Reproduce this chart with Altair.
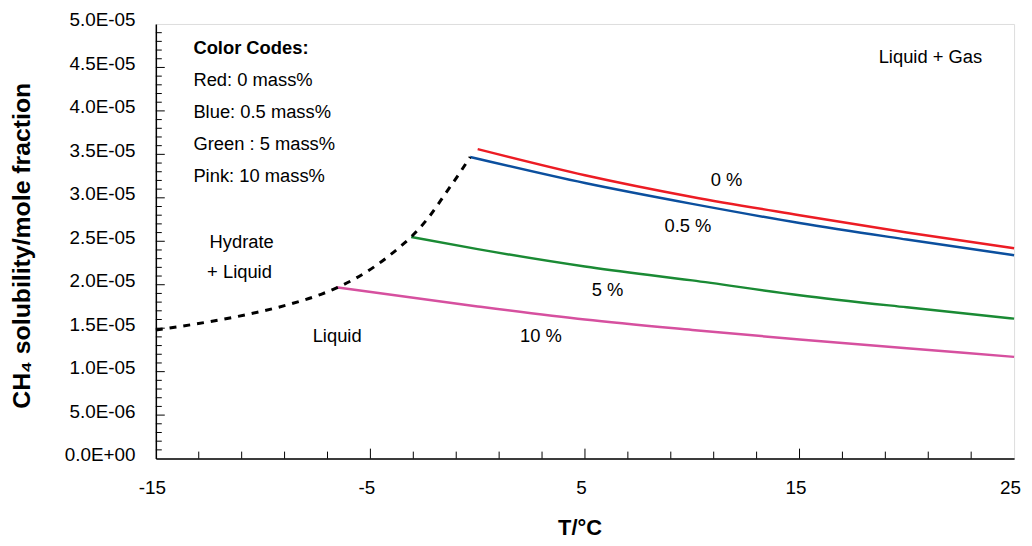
import altair as alt
import pandas as pd
import numpy as np

# ---- data ----
T_red = [0, 5, 10, 15, 20, 25]
red = [35.6e-6, 32.6e-6, 30.1e-6, 28.0e-6, 26.0e-6, 24.2e-6]

T_blue = [-0.35, 5, 10, 15, 20, 25]
blue = [34.7e-6, 31.7e-6, 29.3e-6, 27.1e-6, 25.2e-6, 23.4e-6]

T_green = [-3.1, 0, 5, 10, 15, 20, 25]
green = [25.5e-6, 24.1e-6, 22.1e-6, 20.5e-6, 18.8e-6, 17.4e-6, 16.1e-6]

T_pink = [-6.6, 0, 5, 10, 15, 20, 25]
pink = [19.7e-6, 17.5e-6, 16.0e-6, 14.8e-6, 13.7e-6, 12.7e-6, 11.7e-6]

T_hyd = [-15, -12.5, -10.7, -8.7, -7.3, -6.6, -4.8, -3.6, -3.1, -2.3, -1.5, -0.8, -0.35]
hyd = [14.8e-6, 15.75e-6, 16.6e-6, 17.8e-6, 18.9e-6, 19.6e-6, 22.1e-6, 24.4e-6,
       25.5e-6, 27.7e-6, 30.5e-6, 33.0e-6, 34.7e-6]

series_names = ["0 %", "0.5 %", "5 %", "10 %"]
series_colors = ["#ec1c24", "#0b4f9e", "#1a8a34", "#d6509f"]

x_label_values = [-15, -5, 5, 15, 25]
y_label_values = [0, 5e-6, 10e-6, 15e-6, 20e-6, 25e-6, 30e-6, 35e-6, 40e-6, 45e-6, 50e-6]

legend_lines = ["Red: 0 mass%", "Blue: 0.5 mass%", "Green : 5 mass%", "Pink: 10 mass%"]

FONT = "Liberation Sans"
TXT = 18.5
W, H = 865, 438

rows = []
for name, T, v in zip(series_names, [T_red, T_blue, T_green, T_pink], [red, blue, green, pink]):
    for t, val in zip(T, v):
        rows.append({"T": t, "x": val, "series": name})
df_lines = pd.DataFrame(rows)
df_hyd = pd.DataFrame({"T": T_hyd, "x": hyd})

xscale = alt.Scale(domain=[-15, 25], nice=False, zero=False)
yscale = alt.Scale(domain=[0, 5e-5], nice=False)

ylabel_expr = ("round(datum.value*1e6) == 0 ? '0.0E+00' : "
               "(round(datum.value*1e6) >= 10 ? format(datum.value*1e5, '.1f') + 'E-05' : "
               "format(datum.value*1e6, '.1f') + 'E-06')")
xlabel_expr = "(datum.value < 0 ? '-' : '') + format(abs(datum.value), 'd')"

base_x = alt.X("T:Q", scale=xscale,
               axis=alt.Axis(values=x_label_values, ticks=False, grid=False, labelFont=FONT,
                             labelFontSize=19, labelColor="black", labelPadding=20,
                             labelFlush=False, labelOffset=-4, labelExpr=xlabel_expr,
                             domainColor="black", domainWidth=1.5,
                             title="T/°C", titleFont=FONT, titleFontSize=22, titleFontWeight="bold",
                             titleColor="black", titleX=427, titleY=70, titleAlign="center",
                             titleBaseline="middle"))
base_y = alt.Y("x:Q", scale=yscale,
               axis=alt.Axis(values=y_label_values, ticks=False, grid=False, labelFont=FONT,
                             labelFontSize=19, labelColor="black", labelPadding=21,
                             labelOffset=-4,
                             labelExpr=ylabel_expr, domainColor="black", domainWidth=1.5,
                             title="CH₄ solubility/mole fraction", titleFont=FONT,
                             titleFontSize=25, titleFontWeight="bold", titleColor="black",
                             titleAngle=270, titleX=-135, titleY=223, titleAlign="center",
                             titleBaseline="middle"))

lines = alt.Chart(df_lines).mark_line(strokeWidth=2.5, interpolate="monotone").encode(
    x=base_x, y=base_y,
    color=alt.Color("series:N", scale=alt.Scale(domain=series_names, range=series_colors), legend=None),
    detail="series:N",
)

hydrate = alt.Chart(df_hyd).mark_line(strokeWidth=3, strokeDash=[7, 7], color="black",
                                      interpolate="monotone").encode(
    x=alt.X("T:Q", scale=xscale), y=alt.Y("x:Q", scale=yscale))

# inward tick marks
xt_minor = pd.DataFrame({"T": [t for t in np.arange(-13, 25, 2) if t not in x_label_values]})
xt_major = pd.DataFrame({"T": [t for t in np.arange(-13, 25, 2) if t in x_label_values]})
yt_minor = pd.DataFrame({"x": [i * 1e-6 for i in range(1, 50) if i % 5 != 0]})
yt_major = pd.DataFrame({"x": [i * 1e-6 for i in range(5, 50, 5)]})

xtick_minor = alt.Chart(xt_minor).mark_rule(color="black", strokeWidth=1).encode(
    x=alt.X("T:Q", scale=xscale), y=alt.value(H), y2=alt.value(H - 7))
xtick_major = alt.Chart(xt_major).mark_rule(color="black", strokeWidth=1).encode(
    x=alt.X("T:Q", scale=xscale), y=alt.value(H), y2=alt.value(H - 10))
ytick_minor = alt.Chart(yt_minor).mark_rule(color="black", strokeWidth=1).encode(
    y=alt.Y("x:Q", scale=yscale), x=alt.value(0), x2=alt.value(6))
ytick_major = alt.Chart(yt_major).mark_rule(color="black", strokeWidth=1).encode(
    y=alt.Y("x:Q", scale=yscale), x=alt.value(0), x2=alt.value(9))

# annotations
df_title = pd.DataFrame({"T": [-13.25], "x": [47.2e-6], "text": ["Color Codes:"]})
df_legend = pd.DataFrame({"T": [-13.25] * 4, "x": [43.5e-6, 39.85e-6, 36.2e-6, 32.55e-6],
                          "text": legend_lines})
df_notes = pd.DataFrame({
    "T": [21.1, -11.0, -11.1, -6.55, 11.6, 9.8, 6.05, 2.95],
    "x": [46.2e-6, 24.9e-6, 21.5e-6, 14.1e-6, 32.0e-6, 26.8e-6, 19.4e-6, 14.1e-6],
    "text": ["Liquid + Gas", "Hydrate", "+ Liquid", "Liquid", "0 %", "0.5 %", "5 %", "10 %"],
})

txt_title = alt.Chart(df_title).mark_text(font=FONT, fontSize=TXT, fontWeight="bold", align="left",
                                          baseline="middle", color="black").encode(
    x=alt.X("T:Q", scale=xscale), y=alt.Y("x:Q", scale=yscale), text="text:N")
txt_legend = alt.Chart(df_legend).mark_text(font=FONT, fontSize=TXT, align="left",
                                            baseline="middle", color="black").encode(
    x=alt.X("T:Q", scale=xscale), y=alt.Y("x:Q", scale=yscale), text="text:N")
txt_notes = alt.Chart(df_notes).mark_text(font=FONT, fontSize=TXT, align="center",
                                          baseline="middle", color="black").encode(
    x=alt.X("T:Q", scale=xscale), y=alt.Y("x:Q", scale=yscale), text="text:N")

chart = alt.layer(
    lines, hydrate, xtick_minor, xtick_major, ytick_minor, ytick_major,
    txt_title, txt_legend, txt_notes,
).properties(
    width=W, height=H,
    autosize=alt.AutoSizeParams(type="none"),
    padding={"left": 149, "top": 14, "right": 10, "bottom": 84},
).configure_view(stroke="black", strokeWidth=1.5).configure(background="white")

chart.save("out.html", embed_options={"renderer": "svg", "actions": False})
